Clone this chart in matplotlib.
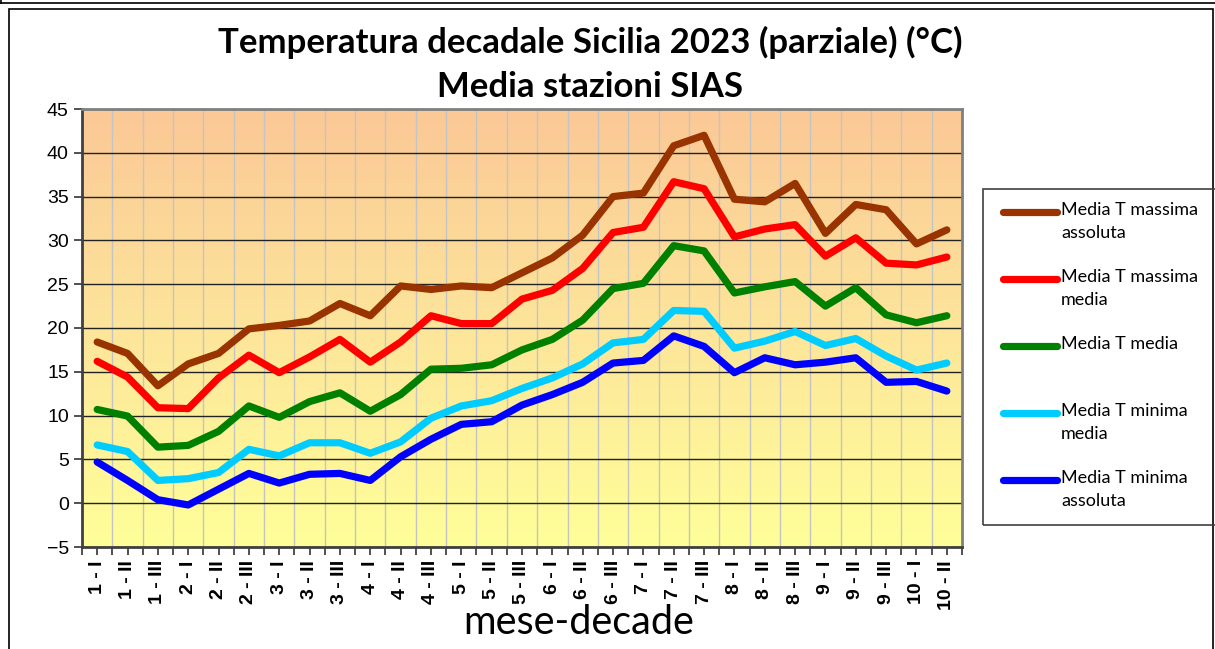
import numpy as np
import matplotlib.pyplot as plt
from matplotlib.lines import Line2D
from matplotlib.patches import Rectangle
from matplotlib.colors import LinearSegmentedColormap

# categorie mese-decade
mesi = [1, 1, 1, 2, 2, 2, 3, 3, 3, 4, 4, 4, 5, 5, 5, 6, 6, 6, 7, 7, 7, 8, 8, 8, 9, 9, 9, 10, 10]
decadi = ['I', 'II', 'III'] * 9 + ['I', 'II']
etichette = [f'{m} - {d}' for m, d in zip(mesi, decadi)]

t_max_ass = [18.4, 17.1, 13.4, 15.9, 17.1, 19.9, 20.3, 20.8, 22.8, 21.4, 24.8, 24.4, 24.8, 24.6, 26.3,
             28.0, 30.6, 35.0, 35.4, 40.8, 42.0, 34.7, 34.4, 36.5, 30.8, 34.1, 33.5, 29.6, 31.2]
t_max_med = [16.2, 14.4, 10.9, 10.8, 14.3, 16.9, 14.9, 16.7, 18.7, 16.1, 18.4, 21.4, 20.5, 20.5, 23.3,
             24.3, 26.8, 30.9, 31.5, 36.7, 35.9, 30.4, 31.3, 31.8, 28.2, 30.3, 27.4, 27.2, 28.1]
t_media = [10.7, 9.95, 6.4, 6.6, 8.2, 11.1, 9.8, 11.6, 12.6, 10.5, 12.4, 15.3, 15.4, 15.8, 17.5,
           18.7, 20.9, 24.5, 25.1, 29.4, 28.8, 24.0, 24.7, 25.3, 22.5, 24.6, 21.5, 20.6, 21.4]
t_min_med = [6.65, 5.9, 2.6, 2.8, 3.5, 6.15, 5.4, 6.9, 6.9, 5.7, 7.0, 9.7, 11.1, 11.7, 13.1,
             14.3, 15.9, 18.3, 18.7, 22.0, 21.9, 17.7, 18.5, 19.6, 18.0, 18.8, 16.8, 15.2, 16.0]
t_min_ass = [4.7, 2.6, 0.4, -0.2, 1.6, 3.4, 2.3, 3.3, 3.4, 2.6, 5.3, 7.3, 9.0, 9.3, 11.2,
             12.4, 13.8, 16.0, 16.3, 19.1, 17.9, 14.9, 16.6, 15.8, 16.1, 16.6, 13.8, 13.9, 12.8]

serie = [t_max_ass, t_max_med, t_media, t_min_med, t_min_ass]
nomi = ['Media T massima\nassoluta', 'Media T massima\nmedia', 'Media T media',
        'Media T minima\nmedia', 'Media T minima\nassoluta']
colori = ['#993300', '#FF0000', '#008000', '#00CCFF', '#0000FF']

W, H = 1215, 649
fig = plt.figure(figsize=(W / 100, H / 100), dpi=100)

def fx(x):
    return x / W

def fy(y):
    return 1 - y / H

ax = fig.add_axes([fx(82), fy(547), fx(962) - fx(82), fy(109) - fy(547)])

x = np.arange(len(etichette))

# sfondo sfumato
cmap = LinearSegmentedColormap.from_list('sfondo', ['#FFFF99', '#FDE59B', '#FBC896'])
grad = np.linspace(0, 1, 256).reshape(-1, 1)
ax.imshow(grad, cmap=cmap, aspect='auto', origin='lower',
          extent=[-0.5, len(x) - 0.5, -5, 45], zorder=0)

for s, c in zip(serie, colori):
    ax.plot(x, s, color=c, linewidth=5.2, solid_capstyle='round', solid_joinstyle='round', zorder=3)

ax.set_xlim(-0.5, len(x) - 0.5)
ax.set_ylim(-5, 45)
ax.set_yticks(np.arange(-5, 46, 5))
ax.set_xticks(x)
ax.set_xticklabels(etichette, rotation=90, fontsize=14, fontweight='bold', family='Liberation Sans')
ax.set_xticks(np.arange(-0.5, len(x), 1), minor=True)
ax.tick_params(axis='y', labelsize=14, length=6, width=1.2, direction='out', colors='#333333', labelcolor='black')
ax.tick_params(axis='x', which='both', length=6, width=1.2, direction='out', colors='#333333', labelcolor='black')
for lab in ax.get_yticklabels():
    lab.set_family('Liberation Sans')

ax.grid(axis='x', which='minor', color='#C4C4C4', linewidth=1)
ax.grid(axis='y', which='major', color='#222222', linewidth=1)
ax.set_axisbelow('line')

ax.spines['left'].set_color('#404040')
ax.spines['bottom'].set_color('#404040')
ax.spines['top'].set_color('#808080')
ax.spines['right'].set_color('#808080')
for sp in ax.spines.values():
    sp.set_linewidth(2)

ax.set_xlabel('mese-decade', fontsize=28.5, family='Lato', va='top')
ax.xaxis.set_label_coords((579 - 82) / 880, (547 - 604) / 438)

# titolo
fig.text(fx(590), fy(42), 'Temperatura decadale Sicilia 2023 (parziale) (°C)', ha='center', va='center',
         fontsize=25, fontweight='bold', family='Lato')
fig.text(fx(590), fy(87), 'Media stazioni SIAS', ha='center', va='center',
         fontsize=25, fontweight='bold', family='Lato')

# cornici
fig.add_artist(Line2D([0, 1], [fy(3), fy(3)], transform=fig.transFigure, color='black', lw=1.2))
fig.add_artist(Line2D([fx(1), fx(1)], [1, fy(3)], transform=fig.transFigure, color='black', lw=1.2))
fig.add_artist(Rectangle((fx(9), fy(660)), fx(1213) - fx(9), fy(9) - fy(660), transform=fig.transFigure,
                         fill=False, edgecolor='black', lw=1.2))

# legenda
fig.add_artist(Rectangle((fx(983), fy(525)), fx(1230) - fx(983), fy(189) - fy(525), transform=fig.transFigure,
                         fill=False, edgecolor='#404040', lw=1.2))
ylin = [212, 279, 346, 413, 480]
for yl, nome, c in zip(ylin, nomi, colori):
    fig.add_artist(Line2D([fx(1003), fx(1057)], [fy(yl), fy(yl)], transform=fig.transFigure,
                          color=c, lw=5.2, solid_capstyle='round'))
    fig.text(fx(1061), fy(yl - 10), nome, ha='left', va='top', fontsize=13, family='Lato', linespacing=1.55)

fig.savefig('out.png', dpi=100)
